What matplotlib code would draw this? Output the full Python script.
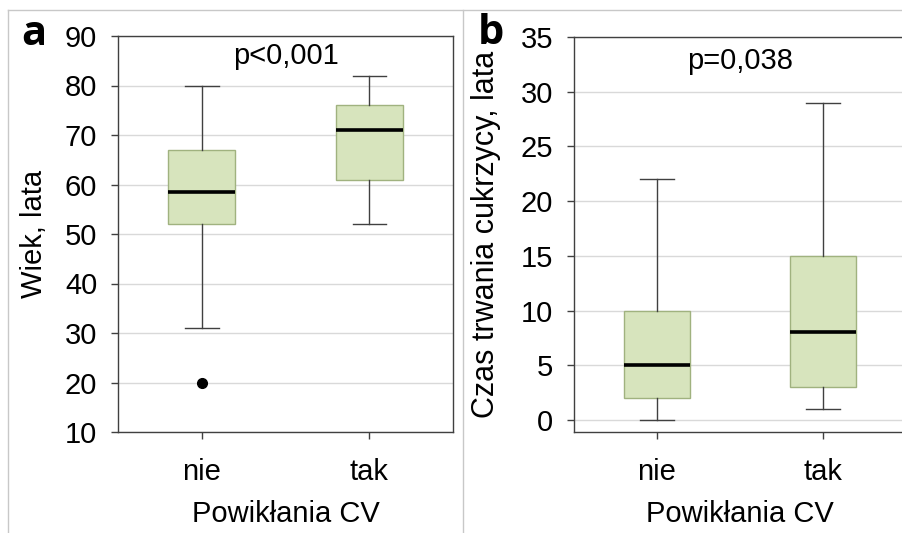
import matplotlib
matplotlib.use("Agg")
import matplotlib.pyplot as plt
from matplotlib.lines import Line2D

plt.rcParams['font.family'] = ['Liberation Sans', 'DejaVu Sans']

categories = ['nie', 'tak']

# Wiek, lata: whisker low, Q1, median, Q3, whisker high
age_low = [31, 52]
age_q1 = [52, 61]
age_med = [58.5, 71]
age_q3 = [67, 76]
age_high = [80, 82]
age_outliers = [[20], []]

# Czas trwania cukrzycy, lata
dur_low = [0, 1]
dur_q1 = [2, 3]
dur_med = [5, 8]
dur_q3 = [10, 15]
dur_high = [22, 29]
dur_outliers = [[], []]

BOX_FILL = '#d7e4bd'
BOX_EDGE = '#a0b27f'
LINE = '#404040'
GRID = '#d9d9d9'
FS = 21


def make_stats(low, q1, med, q3, high, fliers):
  return [dict(label=c, whislo=lo, q1=a, med=m, q3=b, whishi=hi, fliers=f)
          for c, lo, a, m, b, hi, f in zip(categories, low, q1, med, q3, high, fliers)]


def draw_panel(ax, stats, ylim, yticks, ylabel, ylabelsize, ylabelpad, ptext, ptop):
  ax.bxp(stats, positions=[1, 2], widths=0.4, patch_artist=True, showfliers=True,
         boxprops=dict(facecolor=BOX_FILL, edgecolor=BOX_EDGE, linewidth=1.0),
         medianprops=dict(color='black', linewidth=2.6),
         whiskerprops=dict(color=LINE, linewidth=1.0),
         capprops=dict(color=LINE, linewidth=1.0),
         capwidths=0.2,
         flierprops=dict(marker='o', markerfacecolor='black', markeredgecolor='black',
                         markersize=7))
  ax.set_xlim(0.5, 2.5)
  ax.set_ylim(*ylim)
  ax.set_yticks(yticks)
  ax.set_xticks([1, 2])
  ax.set_xticklabels(categories)
  ax.yaxis.grid(True, color=GRID, linewidth=1.0)
  ax.set_axisbelow(True)
  for s in ax.spines.values():
    s.set_color(LINE)
    s.set_linewidth(1.0)
  ax.tick_params(axis='both', labelsize=FS, color=LINE, length=5, width=1.0)
  ax.tick_params(axis='y', pad=10)
  ax.tick_params(axis='x', pad=14)
  ax.set_ylabel(ylabel, fontsize=ylabelsize, labelpad=ylabelpad)
  ax.set_xlabel('Powikłania CV', fontsize=FS, labelpad=10)
  ax.text(0.5, ptop, ptext, transform=ax.transAxes, ha='center', va='top', fontsize=FS)


fig = plt.figure(figsize=(9.03, 5.33), dpi=100)
W, H = 903, 533

ax_a = fig.add_axes([118 / W, 1 - 432 / H, 335 / W, 396 / H])
ax_b = fig.add_axes([574 / W, 1 - 432 / H, 332 / W, 395 / H])

draw_panel(ax_a, make_stats(age_low, age_q1, age_med, age_q3, age_high, age_outliers),
           (10, 90), range(10, 91, 10), 'Wiek, lata', 21, 12, 'p<0,001', 0.985)
draw_panel(ax_b, make_stats(dur_low, dur_q1, dur_med, dur_q3, dur_high, dur_outliers),
           (-1.1, 35), range(0, 36, 5), 'Czas trwania cukrzycy, lata', 22, 14,
           'p=0,038', 0.975)

# panel letters
fig.text(34 / W, 1 - 45 / H, 'a', fontsize=30, fontweight='bold', ha='center',
         va='baseline', family=['Open Sans', 'DejaVu Sans'])
fig.text(491 / W, 1 - 44 / H, 'b', fontsize=30, fontweight='bold', ha='center',
         va='baseline', family=['Open Sans', 'DejaVu Sans'])

# frame and panel divider
frame = dict(color='#c8c8c8', linewidth=1.0)
fig.add_artist(Line2D([8 / W, 1], [1 - 10 / H, 1 - 10 / H], **frame))
fig.add_artist(Line2D([8 / W, 8 / W], [0, 1 - 10 / H], **frame))
fig.add_artist(Line2D([463 / W, 463 / W], [0, 1 - 10 / H], **frame))

fig.savefig('out.png', dpi=100, facecolor='white')
